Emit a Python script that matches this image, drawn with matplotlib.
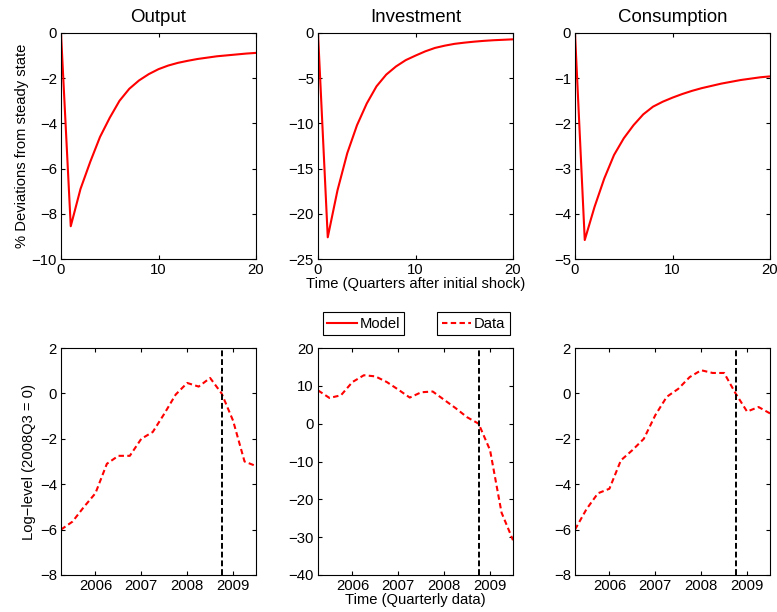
import numpy as np
import matplotlib
matplotlib.use('Agg')
import matplotlib.pyplot as plt
from matplotlib.lines import Line2D

#--------------------------------------------------- data
titles = ['Output', 'Investment', 'Consumption']

# model impulse responses (quarters after shock)
t_model = np.arange(0, 21)
output_model = [0, -8.55, -6.9, -5.7, -4.6, -3.75, -3.0, -2.47, -2.1, -1.82, -1.6,
                -1.44, -1.32, -1.23, -1.15, -1.09, -1.03, -0.99, -0.95, -0.91, -0.88]
invest_model = [0, -22.6, -17.4, -13.3, -10.2, -7.8, -5.9, -4.6, -3.7, -3.0, -2.5,
                -2.03, -1.65, -1.4, -1.2, -1.07, -0.96, -0.87, -0.8, -0.75, -0.7]
cons_model = [0, -4.58, -3.85, -3.22, -2.7, -2.33, -2.04, -1.8, -1.63, -1.52, -1.43,
              -1.35, -1.28, -1.22, -1.17, -1.12, -1.08, -1.04, -1.01, -0.98, -0.96]

# quarterly data, log-level relative to 2008Q3
t_data = np.arange(2005.25, 2009.51, 0.25)
output_data = [-6.0, -5.65, -5.0, -4.4, -3.1, -2.75, -2.75, -2.0, -1.7,
               -0.9, -0.05, 0.46, 0.3, 0.68, 0.0, -1.2, -3.0, -3.2]
invest_data = [8.8, 6.8, 7.5, 11.0, 12.8, 12.5, 11.0, 9.0, 6.9,
               8.3, 8.5, 6.3, 4.1, 1.7, 0.0, -7.0, -23.5, -30.8]
cons_data = [-6.0, -5.1, -4.4, -4.2, -2.95, -2.5, -2.0, -0.96, -0.15,
             0.2, 0.72, 1.02, 0.9, 0.9, 0.0, -0.8, -0.6, -0.88]
shock_date = 2008.75

top_ylims = [(-10, 0), (-25, 0), (-5, 0)]
top_yticks = [np.arange(-10, 1, 2), np.arange(-25, 1, 5), np.arange(-5, 1, 1)]
bot_ylims = [(-8, 2), (-40, 20), (-8, 2)]
bot_yticks = [np.arange(-8, 3, 2), np.arange(-40, 21, 10), np.arange(-8, 3, 2)]
year_ticks = [2006, 2007, 2008, 2009]

#--------------------------------------------------- style (matlab look)
plt.rcParams['font.family'] = ['Liberation Sans', 'DejaVu Sans']
plt.rcParams['font.size'] = 10.7
plt.rcParams['axes.linewidth'] = 0.8

fig = plt.figure(figsize=(7.77, 6.12), dpi=100)

lefts = [61/777., 318/777., 575/777.]
wid = 195/777.
top_bot, top_h = 1 - 259/612., 226/612.
bot_bot, bot_h = 1 - 575/612., 227/612.

def matlab_axes(ax):
  ax.tick_params(direction='in', length=3, width=0.8, top=True, right=True,
                 labelsize=10.7, pad=3, colors='k')
  for sp in ax.spines.values():
    sp.set_color('k')

models = [output_model, invest_model, cons_model]
datas = [output_data, invest_data, cons_data]

for i in range(3):
  #----------------------- top row: model
  ax = fig.add_axes([lefts[i], top_bot, wid, top_h])
  ax.plot(t_model, models[i], '-', color='r', linewidth=1.5)
  ax.set_xlim(0, 20)
  ax.set_ylim(top_ylims[i])
  ax.set_xticks([0, 10, 20])
  ax.set_yticks(top_yticks[i])
  ax.set_title(titles[i], fontsize=13.4, pad=8)
  matlab_axes(ax)
  if i == 0:
    ax.set_ylabel('% Deviations from steady state', fontsize=10.6, labelpad=2)
  if i == 1:
    ax.set_xlabel('Time (Quarters after initial shock)', fontsize=10.6, labelpad=0)

  #----------------------- bottom row: data
  ax = fig.add_axes([lefts[i], bot_bot, wid, bot_h])
  ax.plot(t_data, datas[i], '--', color='r', linewidth=1.5, dashes=(2.6, 1.6))
  ax.axvline(shock_date, color='k', linestyle='--', linewidth=1.4, dashes=(3, 1.5))
  ax.set_xlim(t_data[0], t_data[-1])
  ax.set_ylim(bot_ylims[i])
  ax.set_xticks(year_ticks)
  ax.set_yticks(bot_yticks[i])
  matlab_axes(ax)
  if i == 0:
    ax.set_ylabel('Log\u2212level (2008Q3 = 0)', fontsize=10.6, labelpad=3)
  if i == 1:
    ax.set_xlabel('Time (Quarterly data)', fontsize=10.6, labelpad=0)

#--------------------------------------------------- two separate legend boxes
h_model = Line2D([], [], color='r', linestyle='-', linewidth=1.5)
h_data = Line2D([], [], color='r', linestyle='--', linewidth=1.5, dashes=(2.6, 1.6))
for h, lab, xc in [(h_model, 'Model', 363.5/777.), (h_data, 'Data', 473.7/777.)]:
  leg = fig.legend([h], [lab], loc='center', bbox_to_anchor=(xc, 1 - 323.7/612.),
                   fancybox=False, framealpha=1, edgecolor='k', fontsize=10.6,
                   handlelength=2.0, handletextpad=0.2, borderpad=0.3,
                   borderaxespad=0)
  leg.get_frame().set_linewidth(0.8)

fig.savefig('out.png', dpi=100)
